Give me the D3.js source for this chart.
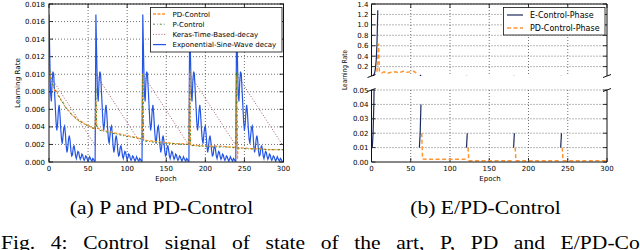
<!DOCTYPE html>
<html>
<head>
<meta charset="utf-8">
<script src="https://cdn.jsdelivr.net/npm/d3@7"></script>
<style>
  body { margin: 0; background: #fff; }
  svg { display: block; }
  text { font-family: "DejaVu Sans", sans-serif; fill: #000; }
  .cap { font-family: "Liberation Serif", "Times New Roman", serif; }
</style>
</head>
<body>
<div id="chart"></div>
<script>
// ---- (a) P and PD-Control ----
var xTicks = [0, 50, 100, 150, 200, 250, 300];
var yTicksA = [0, 0.002, 0.004, 0.006, 0.008, 0.010, 0.012, 0.014, 0.016, 0.018];

// exponential sine wave decay, one 60 epoch cycle (restarts every 60)
var restartEpochs = [0, 60, 120, 180, 240];
var sineCycle = [
  0.0168, 0.0120, 0.0078, 0.0069, 0.0092, 0.0103, 0.0100, 0.0082, 0.0064, 0.0046,
  0.0036, 0.0043, 0.0059, 0.0065, 0.0054, 0.0038, 0.0026, 0.0021, 0.0030, 0.0039,
  0.0041, 0.0032, 0.0018, 0.0011, 0.0016, 0.0026, 0.0030, 0.0024, 0.0013, 0.0007,
  0.0008, 0.0016, 0.0019, 0.0014, 0.0007, 0.0004, 0.0008, 0.0012, 0.0011, 0.0006,
  0.0003, 0.0005, 0.0009, 0.0008, 0.0004, 0.0002, 0.0004, 0.0007, 0.0006, 0.0003,
  0.0001, 0.0003, 0.0006, 0.0004, 0.0002, 0.0001, 0.0004, 0.0003, 0.0001, 0.0001
];

var pdEpochs = [0, 2, 4, 6, 8, 10, 12, 14, 16, 18, 20, 23, 26, 29, 32, 35, 38, 42, 46, 50, 55, 59,
  60, 61, 65, 70, 75, 80, 85, 90, 95, 100, 105, 110, 115, 119,
  120, 121, 130, 140, 150, 160, 170, 179,
  180, 181, 190, 200, 210, 220, 230, 239,
  240, 241, 242, 250, 260, 270, 280, 290, 300];
var pdValues = [0.0113, 0.0095, 0.0088, 0.0086, 0.0080, 0.0081, 0.0075, 0.0074, 0.0069, 0.0068, 0.0064, 0.0060, 0.0058, 0.0054, 0.0052, 0.0050, 0.0047, 0.0046, 0.0043, 0.0042, 0.0039, 0.0038,
  0.0070, 0.0040, 0.0037, 0.0036, 0.0035, 0.0034, 0.0033, 0.0032, 0.0031, 0.0030, 0.0029, 0.0028, 0.0027, 0.0027,
  0.0101, 0.0025, 0.0024, 0.0023, 0.0022, 0.0021, 0.0021, 0.0020,
  0.0104, 0.0019, 0.0019, 0.0018, 0.0018, 0.0018, 0.0017, 0.0017,
  0.0100, 0.0003, 0.0016, 0.0016, 0.0015, 0.0015, 0.0014, 0.0014, 0.0014];

var pEpochs = [0, 3, 6, 10, 15, 20, 25, 30, 35, 40, 45, 50, 55, 59,
  60, 61, 65, 70, 80, 90, 100, 110, 119,
  120, 121, 130, 140, 150, 160, 170, 179,
  180, 181, 190, 200, 210, 220, 230, 239,
  240, 241, 250, 260, 270, 280, 290, 300];
var pValues = [0.0112, 0.0093, 0.0085, 0.0079, 0.0071, 0.0064, 0.0058, 0.0053, 0.0049, 0.0046, 0.0043, 0.0041, 0.0039, 0.0038,
  0.0085, 0.0039, 0.0036, 0.0035, 0.0033, 0.0031, 0.0029, 0.0028, 0.0026,
  0.0100, 0.0024, 0.0023, 0.0022, 0.0021, 0.0021, 0.0020, 0.0020,
  0.0110, 0.0019, 0.0018, 0.0018, 0.0017, 0.0017, 0.0017, 0.0016,
  0.0103, 0.0016, 0.0015, 0.0015, 0.0015, 0.0014, 0.0014, 0.0014];

var kerasEpochs = [0, 59, 60, 119, 120, 179, 180, 239, 240, 299];
var kerasValues = [0.0100, 0.0019, 0.0100, 0.0019, 0.0100, 0.0019, 0.0100, 0.0019, 0.0100, 0.0019];

var legendA = ["PD-Control", "P-Control", "Keras-Time-Based-decay", "Exponential-Sine-Wave decay"];

// ---- (b) E/PD-Control ----
var yTicksTop = [0.2, 0.4, 0.6, 0.8, 1.0, 1.2, 1.4];
var yTicksBot = [0, 0.01, 0.02, 0.03, 0.04, 0.05];
var eEpochs = [[1, 2, 3, 4, 5, 6, 7, 8], [61, 62, 63], [121, 122], [181, 182], [241, 242]];
var eValues = [[0.01, 0.02, 0.04, 0.08, 0.16, 0.32, 0.64, 1.28], [0.01, 0.02, 0.04], [0.01, 0.02], [0.01, 0.02], [0.01, 0.02]];
var pdPhaseEpochs = [
  [7, 9, 10, 13, 16, 20, 25, 30, 35, 40, 45, 50, 54, 57],
  [64, 65, 80, 100, 122],
  [123, 124, 150, 181],
  [183, 184, 210, 241],
  [243, 244, 270, 300]];
var pdPhaseValues = [
  [0.10, 0.64, 0.12, 0.08, 0.10, 0.07, 0.09, 0.10, 0.08, 0.11, 0.09, 0.10, 0.11, 0.08],
  [0.02, 0.0020, 0.0019, 0.0019, 0.0020],
  [0.01, 0.0008, 0.0008, 0.0008],
  [0.01, 0.0008, 0.0008, 0.0008],
  [0.01, 0.0008, 0.0008, 0.0008]];
var legendB = ["E-Control-Phase", "PD-Control-Phase"];

var orange = "#ff9530", blue = "#2456e6", green = "#2f7d2f", keras = "#a55a68", navy = "#1c2b5e";

var svg = d3.select("#chart").append("svg").attr("width", 640).attr("height", 250);
var defs = svg.append("defs");

function zip(xs, ys) { return xs.map(function(x, i) { return [x, ys[i]]; }); }

function gridAndTicks(g, x, y, xt, yt, top, bottom, ticksTop, ticksBottom) {
  var x0 = x.range()[0], x1 = x.range()[1];
  var grid = g.append("g").attr("class", "grid");
  xt.forEach(function(t) {
    if (t === x.domain()[0] || t === x.domain()[1]) return;
    grid.append("line").attr("x1", x(t)).attr("x2", x(t)).attr("y1", top).attr("y2", bottom);
  });
  yt.forEach(function(t) {
    if (Math.abs(y(t) - bottom) < 0.5) return;
    grid.append("line").attr("x1", x0).attr("x2", x1).attr("y1", y(t)).attr("y2", y(t));
  });
  grid.selectAll("line").attr("stroke", "#333").attr("stroke-width", 0.7).attr("stroke-dasharray", "1,2");

  var tk = g.append("g").attr("stroke", "#000").attr("stroke-width", 0.8);
  yt.forEach(function(t) {
    tk.append("line").attr("x1", x0).attr("x2", x0 + 4).attr("y1", y(t)).attr("y2", y(t));
    tk.append("line").attr("x1", x1 - 4).attr("x2", x1).attr("y1", y(t)).attr("y2", y(t));
  });
  xt.forEach(function(t) {
    if (ticksBottom) tk.append("line").attr("x1", x(t)).attr("x2", x(t)).attr("y1", bottom).attr("y2", bottom - 4);
    if (ticksTop) tk.append("line").attr("x1", x(t)).attr("x2", x(t)).attr("y1", top).attr("y2", top + 4);
  });
}

function clip(id, x, y0, y1) {
  defs.append("clipPath").attr("id", id).append("rect")
    .attr("x", x.range()[0]).attr("y", y0).attr("width", x.range()[1] - x.range()[0]).attr("height", y1 - y0);
}

// ======== panel (a) ========
var xA = d3.scaleLinear().domain([0, 300]).range([49, 283.5]);
var yA = d3.scaleLinear().domain([0, 0.018]).range([162, 4]);
var gA = svg.append("g");
gridAndTicks(gA, xA, yA, xTicks, yTicksA, 4, 162, true, true);
clip("clipA", xA, 4, 162);

var lineA = d3.line().x(function(d) { return xA(d[0]); }).y(function(d) { return yA(d[1]); });
var plotA = gA.append("g").attr("clip-path", "url(#clipA)").attr("fill", "none");

var sineSeries = [];
restartEpochs.forEach(function(r) {
  sineCycle.forEach(function(v, i) { sineSeries.push([r + i, v]); });
});

plotA.append("path").datum(zip(kerasEpochs, kerasValues)).attr("d", lineA)
  .attr("stroke", keras).attr("stroke-width", 1).attr("stroke-dasharray", "1,1.8");
plotA.append("path").datum(sineSeries).attr("d", lineA)
  .attr("stroke", blue).attr("stroke-width", 1.2);
plotA.append("path").datum(zip(pdEpochs, pdValues)).attr("d", lineA)
  .attr("stroke", orange).attr("stroke-width", 1.3).attr("stroke-dasharray", "3,1.5");
plotA.append("path").datum(zip(pEpochs, pValues)).attr("d", lineA)
  .attr("stroke", green).attr("stroke-width", 0.9).attr("stroke-dasharray", "2,2,0.8,2");

gA.append("rect").attr("x", 49).attr("y", 4).attr("width", 234.5).attr("height", 158)
  .attr("fill", "none").attr("stroke", "#111").attr("stroke-width", 1);

gA.selectAll(".ylab").data(yTicksA).enter().append("text")
  .attr("x", 45).attr("y", function(d) { return yA(d) + 2.5; })
  .attr("text-anchor", "end").style("font-size", "7px")
  .text(function(d) { return d3.format(".3f")(d); });
gA.selectAll(".xlab").data(xTicks).enter().append("text")
  .attr("x", function(d) { return xA(d); }).attr("y", 170.5)
  .attr("text-anchor", "middle").style("font-size", "7px").text(function(d) { return d; });
gA.append("text").attr("x", 166).attr("y", 181).attr("text-anchor", "middle")
  .style("font-size", "7px").text("Epoch");
gA.append("text").attr("transform", "translate(19.5,83) rotate(-90)").attr("text-anchor", "middle")
  .style("font-size", "7px").attr("textLength", 50).attr("lengthAdjust", "spacingAndGlyphs").text("Learning Rate");

// legend (a)
var lgA = gA.append("g");
lgA.append("rect").attr("x", 150.5).attr("y", 7.5).attr("width", 131.5).attr("height", 44.5)
  .attr("fill", "#fff").attr("stroke", "#111").attr("stroke-width", 0.8);
var legendStyles = [
  { c: orange, w: 1.3, dash: "3,1.5" },
  { c: green, w: 0.9, dash: "2,2,0.8,2" },
  { c: keras, w: 1, dash: "1,1.8" },
  { c: blue, w: 1.2, dash: null }
];
legendA.forEach(function(name, i) {
  var yy = 14 + i * 10.2;
  var s = legendStyles[i];
  lgA.append("line").attr("x1", 153).attr("x2", 166).attr("y1", yy).attr("y2", yy)
    .attr("stroke", s.c).attr("stroke-width", s.w).attr("stroke-dasharray", s.dash);
  lgA.append("text").attr("x", 172.5).attr("y", yy + 2.5).style("font-size", "7px").text(name);
});

// ======== panel (b) ========
var xB = d3.scaleLinear().domain([0, 300]).range([371.5, 607]);
var yTop = d3.scaleLinear().domain([0.02, 1.4]).range([76, 4]);
var yBot = d3.scaleLinear().domain([0, 0.05]).range([162, 90]);
var gB = svg.append("g");
gridAndTicks(gB, xB, yTop, xTicks, yTicksTop, 4, 76, true, false);
gridAndTicks(gB, xB, yBot, xTicks, yTicksBot, 90, 162, false, true);
clip("clipTop", xB, 4, 76);
clip("clipBot", xB, 90, 162);

function drawB(yScale, clipId) {
  var ln = d3.line().x(function(d) { return xB(d[0]); }).y(function(d) { return yScale(d[1]); });
  var p = gB.append("g").attr("clip-path", "url(#" + clipId + ")").attr("fill", "none");
  eEpochs.forEach(function(ep, i) {
    p.append("path").datum(zip(ep, eValues[i])).attr("d", ln)
      .attr("stroke", navy).attr("stroke-width", 1.2);
  });
  pdPhaseEpochs.forEach(function(ep, i) {
    p.append("path").datum(zip(ep, pdPhaseValues[i])).attr("d", ln)
      .attr("stroke", orange).attr("stroke-width", 1.5).attr("stroke-dasharray", "4,2.5");
  });
}
drawB(yTop, "clipTop");
drawB(yBot, "clipBot");

// spines with break marks
var sp = gB.append("g").attr("stroke", "#111").attr("stroke-width", 1).attr("fill", "none");
sp.append("path").attr("d", "M371.5,76V4H607V76");
sp.append("path").attr("d", "M371.5,90V162H607V90");
[[371.5, 76], [607, 76], [371.5, 90], [607, 90]].forEach(function(p) {
  sp.append("line").attr("x1", p[0] - 4).attr("y1", p[1] + 1.5).attr("x2", p[0] + 4).attr("y2", p[1] - 1.5);
});

gB.selectAll(".ytop").data(yTicksTop).enter().append("text")
  .attr("x", 368.5).attr("y", function(d) { return yTop(d) + 2.5; })
  .attr("text-anchor", "end").style("font-size", "7px")
  .text(function(d) { return d3.format(".1f")(d); });
gB.selectAll(".ybot").data(yTicksBot).enter().append("text")
  .attr("x", 368.5).attr("y", function(d) { return yBot(d) + 2.5; })
  .attr("text-anchor", "end").style("font-size", "7px")
  .text(function(d) { return d3.format(".2f")(d); });
gB.selectAll(".xlab").data(xTicks).enter().append("text")
  .attr("x", function(d) { return xB(d); }).attr("y", 170.5)
  .attr("text-anchor", "middle").style("font-size", "7px").text(function(d) { return d; });
gB.append("text").attr("x", 490).attr("y", 181).attr("text-anchor", "middle")
  .style("font-size", "7px").text("Epoch");
gB.append("text").attr("transform", "translate(347,70) rotate(-90)").attr("text-anchor", "middle")
  .style("font-size", "7px").attr("textLength", 40).attr("lengthAdjust", "spacingAndGlyphs").text("Learning Rate");

// legend (b)
var lgB = gB.append("g");
lgB.append("rect").attr("x", 503.5).attr("y", 7.5).attr("width", 101.5).attr("height", 27.5)
  .attr("fill", "#fff").attr("stroke", "#111").attr("stroke-width", 0.8);
legendB.forEach(function(name, i) {
  var yy = 15 + i * 13;
  lgB.append("line").attr("x1", 507).attr("x2", 523).attr("y1", yy).attr("y2", yy)
    .attr("stroke", i === 0 ? navy : orange).attr("stroke-width", i === 0 ? 1.2 : 1.5)
    .attr("stroke-dasharray", i === 0 ? null : "4,2.5");
  lgB.append("text").attr("x", 530).attr("y", yy + 3).style("font-size", "8px").text(name);
});

// ---- captions ----
svg.append("text").attr("class", "cap").attr("transform", "translate(161.5,213.5) scale(1.2,1)")
  .attr("text-anchor", "middle").style("font-size", "18px").text("(a) P and PD-Control");
svg.append("text").attr("class", "cap").attr("transform", "translate(485.5,213.5) scale(1.2,1)")
  .attr("text-anchor", "middle").style("font-size", "18px").text("(b) E/PD-Control");
// justified caption line, runs past the right edge as in the figure
svg.append("text").attr("class", "cap").attr("transform", "translate(1,248.5) scale(1.2,1)")
  .style("font-size", "18px").style("word-spacing", "8.5px")
  .text("Fig. 4: Control signal of state of the art, P, PD and E/PD-Control");
</script>
</body>
</html>
